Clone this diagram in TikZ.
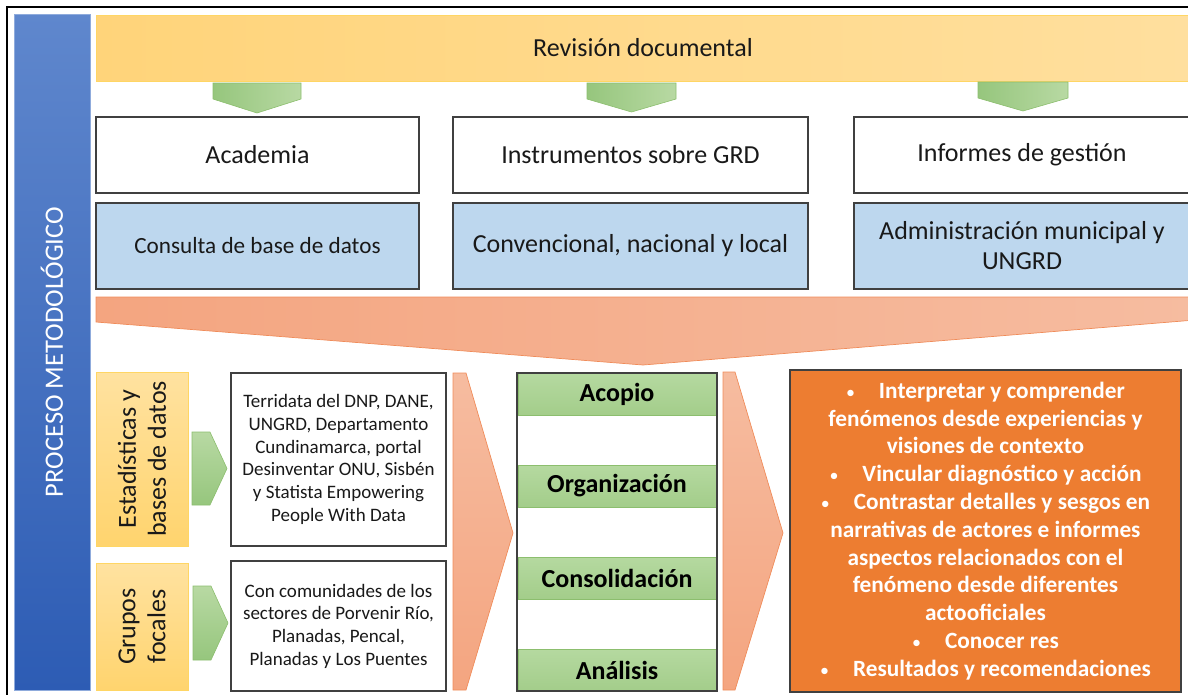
\documentclass[tikz,border=0pt]{standalone}
\usepackage{fontspec}
\setmainfont{Carlito}
\definecolor{barTop}{RGB}{95,135,205}
\definecolor{barBot}{RGB}{45,92,180}
\definecolor{revL}{RGB}{255,212,122}
\definecolor{revR}{RGB}{255,223,158}
\definecolor{revEdge}{RGB}{255,214,100}
\definecolor{blueBox}{RGB}{189,215,238}
\definecolor{edge}{RGB}{64,64,64}
\definecolor{grnD}{RGB}{150,198,125}
\definecolor{grnL}{RGB}{184,217,163}
\definecolor{grnEdge}{RGB}{140,190,110}
\definecolor{salL}{RGB}{244,165,128}
\definecolor{salR}{RGB}{246,188,160}
\definecolor{salEdge}{RGB}{240,140,90}
\definecolor{yelT}{RGB}{255,226,160}
\definecolor{yelB}{RGB}{255,212,110}
\definecolor{bandT}{RGB}{181,217,160}
\definecolor{bandB}{RGB}{163,205,138}
\definecolor{orangeBox}{RGB}{237,125,49}
\definecolor{ink}{RGB}{25,25,25}
\tikzset{
  box/.style={draw=edge, line width=1.5pt, inner sep=0pt, align=center, text=ink},
  whitebox/.style={box, fill=white, minimum height=76pt, font=\fontsize{26}{31}\selectfont},
  bluebox/.style={box, fill=blueBox, minimum height=86pt, font=\fontsize{26}{30}\selectfont},
  yelbox/.style={draw=revEdge, line width=1pt, top color=yelT, bottom color=yelB, inner sep=0pt,
     minimum width=92pt, align=center, text=ink},
  yellabel/.style={rotate=90, align=center, text=ink, font=\fontsize{26}{30}\selectfont},
  srcbox/.style={box, fill=white, minimum width=215pt, font=\fontsize{19}{22.7}\selectfont},
  band/.style={top color=bandT, bottom color=bandB, draw=grnEdge, line width=0.8pt, inner sep=0pt,
     minimum width=198pt, minimum height=42pt, text=black, font=\bfseries\fontsize{26}{30}\selectfont},
  grnarrow/.style={left color=grnD, right color=grnL, draw=grnEdge, line width=0.6pt},
  grnarrowv/.style={top color=grnL, bottom color=grnD, draw=grnEdge, line width=0.6pt},
  salmonh/.style={left color=salL, right color=salR, draw=salEdge, line width=0.7pt},
  salmonv/.style={top color=salR, bottom color=salL, draw=salEdge, line width=0.7pt},
}
\begin{document}
\begin{tikzpicture}[x=1pt, y=-1pt]
\useasboundingbox (0,0) rectangle (1188,694);
\begin{scope}
\clip (0,0) rectangle (1188,694);
% outer frame (top and left visible)
\draw[line width=2.5pt, black] (7,700) -- (7,7) -- (1195,7);

% side bar
\node[top color=barTop, bottom color=barBot, draw=barTop!70!white, line width=0.6pt,
      minimum width=76pt, minimum height=676pt, inner sep=0pt] (bar) at (52,352) {};
\node[rotate=90, text=white, font=\fontsize{26.5}{30}\selectfont] (barlabel) at (bar.center) {PROCESO METODOLÓGICO};

% Revisión documental band
\node[left color=revL, right color=revR, draw=revEdge, line width=1pt, inner sep=0pt,
      minimum width=1094pt, minimum height=66pt] (rev) at (643,48) {};
\node[text=ink, font=\fontsize{26}{31}\selectfont] (revlabel) at (rev.center) {Revisión documental};

% green down arrows
\draw[grnarrow] (213,83) -- (301,83) -- (301,99) -- (257,113) -- (213,99) -- cycle;
\draw[grnarrow] (587,83) -- (676,83) -- (676,99) -- (631.5,112) -- (587,99) -- cycle;
\draw[grnarrow] (978,82) -- (1068,82) -- (1068,98) -- (1023,111) -- (978,98) -- cycle;

% white boxes
\node[whitebox, minimum width=323pt] (acad) at (257.5,155) {Academia};
\node[whitebox, minimum width=355pt] (inst) at (630.5,155) {Instrumentos sobre GRD};
\node[whitebox, minimum width=336pt] (info) at (1022,155) {Informes de gestión};

% blue boxes
\node[bluebox, minimum width=323pt, font=\fontsize{23.2}{30}\selectfont] (cons) at (257.5,246) {Consulta de base de datos};
\node[bluebox, minimum width=355pt] (conv) at (630.5,246) {Convencional, nacional y local};
\node[bluebox, minimum width=336pt] (admin) at (1022,246) {Administración municipal y\\UNGRD};

% big salmon chevron
\draw[salmonh] (96,297) -- (1195,297) -- (1195,320) -- (643,365) -- (96,322) -- cycle;

% yellow boxes
\node[yelbox, minimum height=174pt] (est) at (142,459) {};
\node[yellabel] (estlabel) at (est.center) {Estadísticas y\\bases de datos};
\node[yelbox, minimum height=127pt] (grp) at (142,626.5) {};
\node[yellabel] (grplabel) at (grp.center) {Grupos\\focales};

% green right arrows
\draw[grnarrowv] (192,432) -- (210,432) -- (227,468.5) -- (210,505) -- (192,505) -- cycle;
\draw[grnarrowv] (193,586) -- (211,586) -- (228,623) -- (211,660) -- (193,660) -- cycle;

% source boxes
\node[srcbox, minimum height=173pt] (src1) at (338.5,459.5) {Terridata del DNP, DANE,\\UNGRD, Departamento\\Cundinamarca, portal\\Desinventar ONU, Sisbén\\y Statista Empowering\\People With Data};
\node[srcbox, minimum height=130pt] (src2) at (338.5,626) {Con comunidades de los\\sectores de Porvenir Río,\\Planadas, Pencal,\\Planadas y Los Puentes};

% salmon chevrons
\draw[salmonv] (453,373) -- (466,373) -- (513,533) -- (466,690) -- (453,690) -- cycle;
\draw[salmonv] (723,372) -- (735,372) -- (783,533) -- (735,690) -- (723,690) -- cycle;

% stage column
\node[fill=white, minimum width=200pt, minimum height=318pt, inner sep=0pt] (col) at (617,532) {};
\node[band] (acopio) at (617,394.5) {Acopio};
\node[band] (org) at (617,486) {Organización};
\node[band] (consol) at (617,578) {Consolidación};
\node[band] (anal) at (617,670) {Análisis};
\draw[draw=edge, line width=1.5pt] (col.north west) rectangle (col.south east);

% results box
\node[box, fill=orangeBox, minimum width=391pt, minimum height=322pt, text=white,
      font=\bfseries\fontsize{23.3}{27.8}\selectfont] (res) at (985.5,531)
 {{\mdseries\fontsize{18}{27.8}\selectfont•}\hspace{24pt}Interpretar y comprender\\
  fenómenos desde experiencias y\\
  visiones de contexto\\
  {\mdseries\fontsize{18}{27.8}\selectfont•}\hspace{24pt}Vincular diagnóstico y acción\\
  {\mdseries\fontsize{18}{27.8}\selectfont•}\hspace{24pt}Contrastar detalles y sesgos en\\
  narrativas de actores e informes\\
  aspectos relacionados con el\\
  fenómeno desde diferentes\\
  actooficiales\\
  {\mdseries\fontsize{18}{27.8}\selectfont•}\hspace{24pt}Conocer res\\
  {\mdseries\fontsize{18}{27.8}\selectfont•}\hspace{24pt}Resultados y recomendaciones};
\end{scope}
\end{tikzpicture}
\end{document}
